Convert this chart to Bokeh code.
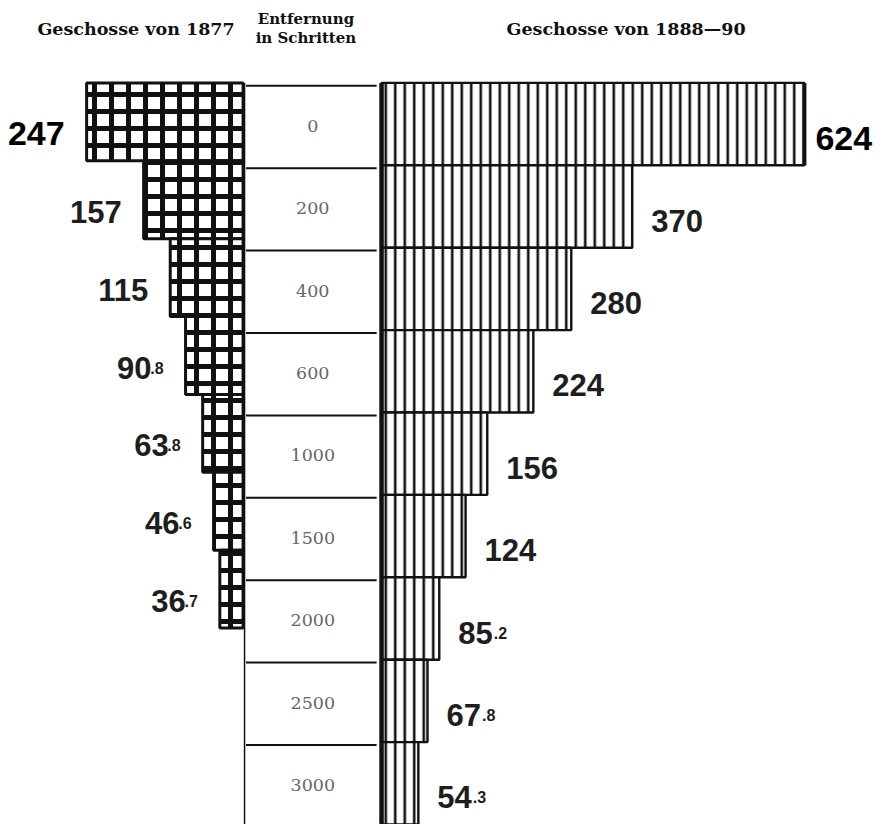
from bokeh.plotting import figure
from bokeh.models import Range1d, ColumnDataSource
from bokeh.embed import file_html
from bokeh.resources import INLINE
from bokeh.core.properties import value

# ---------------- data ----------------
distances = ["0", "200", "400", "600", "1000", "1500", "2000", "2500", "3000"]
old_values = [247, 157, 115, 90.8, 63.8, 46.6, 36.7]
old_labels = ["247", "157", "115", "90.8", "63.8", "46.6", "36.7"]
new_values = [624, 370, 280, 224, 156, 124, 85.2, 67.8, 54.3]
new_labels = ["624", "370", "280", "224", "156", "124", "85.2", "67.8", "54.3"]
title_old = "Geschosse von 1877"
title_mid = ["Entfernung", "in Schritten"]
title_new = "Geschosse von 1888\u201490"

# ---------------- layout ----------------
W, H = 877, 824
SX, SY = W / 893, H / 840


def rx(v):
    return v * SX


def ry(v):
    return v * SY


ROW_TOP = ry(84)
ROW_H = ry(84)
LROW_H = ry(79.4)
NEW_ZERO, NEW_SCALE = rx(388), 0.69 * SX
OLD_ZERO, OLD_SCALE = rx(247), 0.645 * SX

p = figure(width=W, height=H, output_backend="svg", toolbar_location=None,
           x_range=Range1d(0, W), y_range=Range1d(H, 0),
           x_axis_location=None, y_axis_location=None,
           min_border=0, outline_line_color=None, background_fill_color="white")
p.grid.visible = False
p.extra_x_ranges = {
    "new_x": Range1d(start=-NEW_ZERO / NEW_SCALE, end=(W - NEW_ZERO) / NEW_SCALE),
    "old_x": Range1d(start=OLD_ZERO / OLD_SCALE, end=-(W - OLD_ZERO) / OLD_SCALE),
}
p.extra_y_ranges = {
    "rows": Range1d(start=(H - ROW_TOP) / ROW_H, end=-ROW_TOP / ROW_H),
    "old_rows": Range1d(start=(H - ROW_TOP) / LROW_H, end=-ROW_TOP / LROW_H),
}

INK = "#111111"

# ---------------- bars ----------------
new_src = ColumnDataSource(dict(
    y=[i + 0.5 for i in range(len(new_values))], v=new_values))
p.hbar(y="y", height=1, left=0, right="v", source=new_src,
       x_range_name="new_x", y_range_name="rows",
       fill_color="white", line_color=INK, line_width=2.4,
       hatch_pattern="|", hatch_scale=9.5, hatch_weight=2.6, hatch_color=INK)
p.segment(x0=[0], x1=[0], y0=[0], y1=[len(new_values)],
          x_range_name="new_x", y_range_name="rows", line_color=INK, line_width=4.5)
# heavier right edge on the longest bar, as in the original engraving
p.segment(x0=[new_values[0]], x1=[new_values[0]], y0=[0], y1=[1],
          x_range_name="new_x", y_range_name="rows", line_color=INK, line_width=4)

old_src = ColumnDataSource(dict(
    y=[i + 0.5 for i in range(len(old_values))], v=old_values))
p.hbar(y="y", height=1, left=0, right="v", source=old_src,
       x_range_name="old_x", y_range_name="old_rows",
       fill_color="white", line_color=INK, line_width=3,
       hatch_pattern="+", hatch_scale=17, hatch_weight=5, hatch_color=INK)

# ---------------- middle column ----------------
n_rows = len(distances)
p.segment(x0=[rx(250)] * n_rows, x1=[rx(383)] * n_rows,
          y0=[i + 0.035 for i in range(n_rows)], y1=[i + 0.035 for i in range(n_rows)],
          y_range_name="rows", line_color=INK, line_width=2)
p.segment(x0=[rx(248.5)], x1=[rx(248.5)], y0=[0], y1=[n_rows], y_range_name="rows",
          line_color=INK, line_width=1.5)
p.text(x=[rx(318)] * n_rows, y=[i + 0.52 for i in range(n_rows)], text=distances,
       y_range_name="rows", text_align="center", text_baseline="middle",
       text_font=value("DejaVu Serif"), text_font_size="17.5px", text_color="#666666")

# ---------------- value labels ----------------
def split(lbl):
    if "." in lbl:
        a, b = lbl.split(".")
        return a, "." + b
    return lbl, ""


DIG_W = 0.556 * 31
DEC_W = 12

# right
ni = [split(s)[0] for s in new_labels]
nd = [split(s)[1] for s in new_labels]
nsize = ["34px" if i == 0 else "31px" for i in range(len(new_labels))]
ncol = ["#000000" if i == 0 else "#1e1e1e" for i in range(len(new_labels))]
noff = [11 if i == 0 else 19 for i in range(len(new_labels))]
nsrc = ColumnDataSource(dict(
    x=new_values, y=[i + 0.5 for i in range(len(new_values))],
    t=ni, d=nd, size=nsize, col=ncol, off=noff,
    doff=[o + len(t) * DIG_W + 1 for o, t in zip(noff, ni)]))
p.text(x="x", y="y", text="t", source=nsrc, x_range_name="new_x", y_range_name="rows",
       x_offset="off", y_offset=14, text_align="left", text_baseline="alphabetic",
       text_font=value("Liberation Sans"), text_font_style="bold",
       text_font_size="size", text_color="col")
p.text(x="x", y="y", text="d", source=nsrc, x_range_name="new_x", y_range_name="rows",
       x_offset="doff", y_offset=14, text_align="left", text_baseline="alphabetic",
       text_font=value("Liberation Sans"), text_font_style="bold",
       text_font_size="16px", text_color="#1e1e1e")

# left
oi = [split(s)[0] for s in old_labels]
od = [split(s)[1] for s in old_labels]
osize = ["34px" if i == 0 else "31px" for i in range(len(old_labels))]
ocol = ["#000000" if i == 0 else "#1e1e1e" for i in range(len(old_labels))]
ooff = [-22 - (DEC_W if d else 0) for d in od]
osrc = ColumnDataSource(dict(
    x=old_values, y=[i + 0.5 for i in range(len(old_values))],
    t=oi, d=od, size=osize, col=ocol, off=ooff, doff=[-22] * len(old_values)))
p.text(x="x", y="y", text="t", source=osrc, x_range_name="old_x", y_range_name="old_rows",
       x_offset="off", y_offset=12, text_align="right", text_baseline="alphabetic",
       text_font=value("Liberation Sans"), text_font_style="bold",
       text_font_size="size", text_color="col")
p.text(x="x", y="y", text="d", source=osrc, x_range_name="old_x", y_range_name="old_rows",
       x_offset="doff", y_offset=12, text_align="right", text_baseline="alphabetic",
       text_font=value("Liberation Sans"), text_font_style="bold",
       text_font_size="16px", text_color="#1e1e1e")

# ---------------- headers ----------------
p.text(x=[rx(138), rx(637)], y=[ry(29), ry(29)], text=[title_old, title_new],
       text_align="center", text_baseline="middle",
       text_font=value("DejaVu Serif"), text_font_style="bold",
       text_font_size="17.5px", text_color="#111111")
p.text(x=[rx(311), rx(311)], y=[ry(19), ry(38)], text=title_mid,
       text_align="center", text_baseline="middle",
       text_font=value("DejaVu Serif"), text_font_style="bold",
       text_font_size="15px", text_color="#111111")

open("out.html", "w").write(file_html(p, INLINE))
